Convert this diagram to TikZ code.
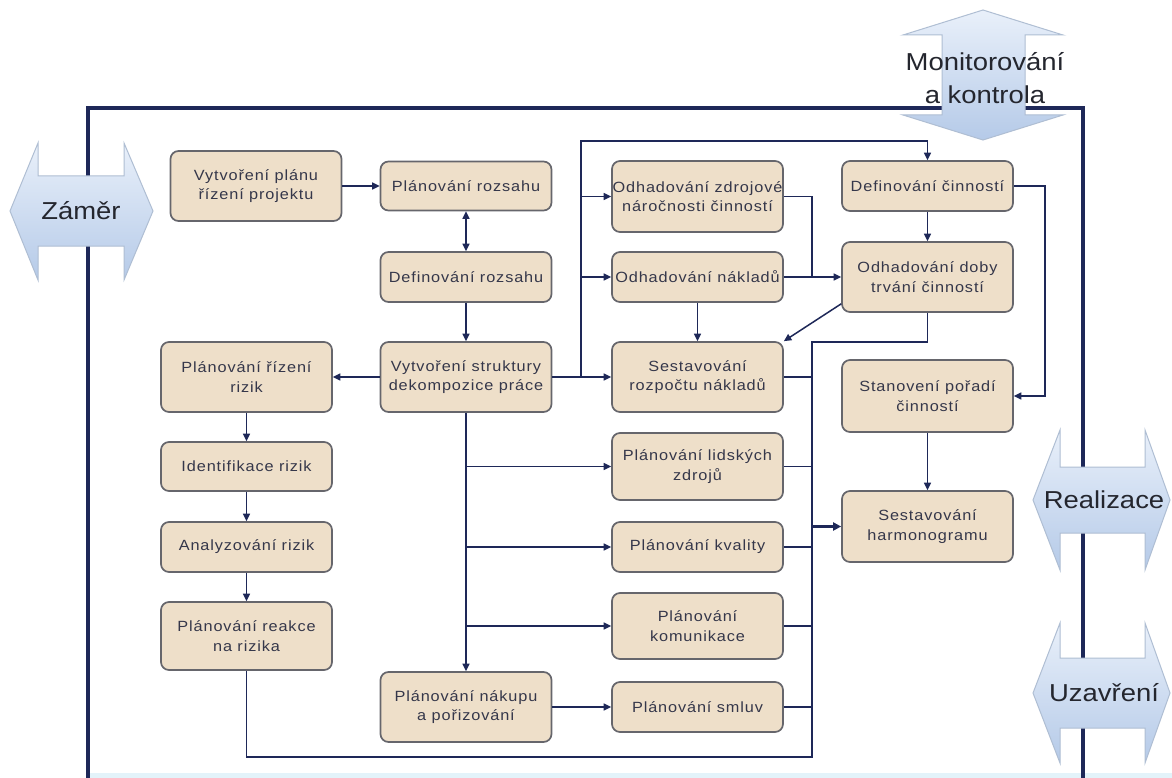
\documentclass[tikz,border=0pt]{standalone}
\usepackage{fontspec}
\setmainfont{Liberation Sans}
\newfontfamily\boxfont[FakeStretch=1.1,LetterSpace=6]{Liberation Sans}
\newfontfamily\phasefont[FakeStretch=1.12]{Liberation Sans}
\usetikzlibrary{arrows.meta,calc}

\definecolor{navy}{HTML}{1E2858}
\definecolor{boxfill}{HTML}{EEDFC9}
\definecolor{boxline}{HTML}{66666C}
\definecolor{boxtext}{HTML}{35374A}
\definecolor{phasetop}{HTML}{E9F0FA}
\definecolor{phasebot}{HTML}{B5CAE8}
\definecolor{phaseline}{HTML}{AFBED3}
\definecolor{phasetext}{HTML}{24262E}
\definecolor{stripcol}{HTML}{E3F3FA}

\tikzset{
  proc/.style={draw=boxline, line width=1.7pt, fill=boxfill, rounded corners=8pt,
    minimum width=171pt, inner sep=0pt, align=center, text=boxtext,
    font=\boxfont\fontsize{14.8}{19.5}\selectfont},
  link/.style={draw=navy, line width=1.5pt},
  thicklink/.style={draw=navy, line width=2.6pt},
  arr/.style={link, -{Triangle[length=7.5pt,width=7pt]}},
  biarr/.style={link, {Triangle[length=7.5pt,width=7pt]}-{Triangle[length=7.5pt,width=7pt]}},
  frameline/.style={draw=navy, line width=3.2pt},
  phase/.style={draw=phaseline, line width=1pt, top color=phasetop, bottom color=phasebot},
  phaselabel/.style={text=phasetext, align=center, inner sep=0pt,
    font=\phasefont\fontsize{24.5}{33}\selectfont}
}

\begin{document}
\begin{tikzpicture}[x=1pt, y=-1pt]
  \useasboundingbox (0,0) rectangle (1172,778);
  \fill[white] (0,0) rectangle (1172,778);
  \fill[stripcol] (88,773) rectangle (1172,778);

  % outer frame of the planning processes
  \draw[frameline] (88,778) -- (88,108) -- (1083,108) -- (1083,778);

  % process boxes
  \node[proc, minimum height=70pt] (plan)     at (256,186)     {Vytvoření plánu\\řízení projektu};
  \node[proc, minimum height=49pt] (rozsah)   at (466,186)     {Plánování rozsahu};
  \node[proc, minimum height=50pt] (defroz)   at (466,277)     {Definování rozsahu};
  \node[proc, minimum height=70pt] (wbs)      at (466,377)     {Vytvoření struktury\\dekompozice práce};
  \node[proc, minimum height=71pt] (zdroj)    at (697.5,196.5) {Odhadování zdrojové\\náročnosti činností};
  \node[proc, minimum height=50pt] (naklad)   at (697.5,277)   {Odhadování nákladů};
  \node[proc, minimum height=70pt] (rozpocet) at (697.5,377)   {Sestavování\\rozpočtu nákladů};
  \node[proc, minimum height=50pt] (defcin)   at (927.5,186)   {Definování činností};
  \node[proc, minimum height=70pt] (doba)     at (927.5,277)   {Odhadování doby\\trvání činností};
  \node[proc, minimum height=72pt] (poradi)   at (927.5,396)   {Stanovení pořadí\\činností};
  \node[proc, minimum height=71pt] (harm)     at (927.5,526.5) {Sestavování\\harmonogramu};
  \node[proc, minimum height=70pt] (rizeni)   at (246.5,377)   {Plánování řízení\\rizik};
  \node[proc, minimum height=49pt] (ident)    at (246.5,466.5) {Identifikace rizik};
  \node[proc, minimum height=50pt] (analyz)   at (246.5,547)   {Analyzování rizik};
  \node[proc, minimum height=68pt] (reakce)   at (246.5,636)   {Plánování reakce\\na rizika};
  \node[proc, minimum height=70pt] (nakup)    at (466,707)     {Plánování nákupu\\a pořizování};
  \node[proc, minimum height=67pt] (lidske)   at (697.5,466.5) {Plánování lidských\\zdrojů};
  \node[proc, minimum height=50pt] (kvalita)  at (697.5,547)   {Plánování kvality};
  \node[proc, minimum height=66pt] (komunik)  at (697.5,626)   {Plánování\\komunikace};
  \node[proc, minimum height=50pt] (smluv)    at (697.5,707)   {Plánování smluv};

  % junction points of the collecting lines
  \coordinate (bus1)    at (581,141);
  \coordinate (j1)      at (812,277);
  \coordinate (j2)      at (1045,186);
  \coordinate (bus2top) at (812,342);
  \coordinate (bus2bot) at (812,757);

  % scope and WBS chain
  \draw[arr] (plan.east) -- (plan.east -| rozsah.west);
  \draw[biarr] (rozsah) -- (defroz);
  \draw[arr] (defroz) -- (wbs);
  \draw[arr] (wbs) -- (rizeni);
  \draw[arr] (wbs) -- (nakup);
  \draw[arr] (wbs.south |- lidske.west) -- (lidske.west);
  \draw[arr] (wbs.south |- kvalita.west) -- (kvalita.west);
  \draw[arr] (wbs.south |- komunik.west) -- (komunik.west);
  \draw[arr] (nakup) -- (smluv);

  % risk chain
  \draw[arr] (rizeni) -- (ident);
  \draw[arr] (ident) -- (analyz);
  \draw[arr] (analyz) -- (reakce);

  % first distribution line
  \draw[thicklink] (wbs.east) -- (wbs.east -| bus1);
  \draw[arr] (wbs.east -| bus1) -- (rozpocet.west);
  \draw[arr] (wbs.east -| bus1) -- (bus1) -| (defcin.north);
  \draw[arr] (bus1 |- zdroj.west) -- (zdroj.west);
  \draw[arr] (bus1 |- naklad.west) -- (naklad.west);
  \draw[arr] (naklad) -- (rozpocet);

  % activities and durations
  \draw[link] (zdroj.east) -| (j1);
  \draw[arr] (naklad.east) -- (doba.west);
  \draw[arr] (defcin) -- (doba);
  \draw[arr] ([yshift=9pt]doba.south west) -- (rozpocet.north east);
  \draw[arr] (defcin.east) -- (j2) |- (poradi.east);
  \draw[arr] (poradi) -- (harm);

  % second collecting line into the schedule
  \draw[link] (doba.south) |- (bus2top) -- (bus2bot) -| (reakce.south);
  \draw[link] (rozpocet.east) -- (rozpocet.east -| bus2top);
  \draw[link] (lidske.east) -- (lidske.east -| bus2top);
  \draw[link] (kvalita.east) -- (kvalita.east -| bus2top);
  \draw[link] (komunik.east) -- (komunik.east -| bus2top);
  \draw[link] (smluv.east) -- (smluv.east -| bus2top);
  \draw[thicklink, -{Triangle[length=8pt,width=8pt]}] (bus2top |- harm.west) -- (harm.west);

  % project phase arrows
  \draw[phase] (10,211) -- (38,143) -- (38,176) -- (124,176) -- (124,143) -- (153,211)
    -- (124,280) -- (124,246) -- (38,246) -- (38,280) -- cycle;
  \node[phaselabel] (zamer) at (81,211) {Záměr};

  \draw[phase] (983,10) -- (1063,35) -- (1025,35) -- (1025,115) -- (1063,115) -- (983,140)
    -- (903,115) -- (942,115) -- (942,35) -- (903,35) -- cycle;
  \node[phaselabel] (monitor) at (985,78) {Monitorování\\a kontrola};

  \draw[phase] (1033,500) -- (1060,430) -- (1060,467) -- (1145,467) -- (1145,430) -- (1170,500)
    -- (1145,570) -- (1145,533) -- (1060,533) -- (1060,570) -- cycle;
  \node[phaselabel] (realizace) at (1104,500) {Realizace};

  \draw[phase] (1033,693) -- (1060,623) -- (1060,658) -- (1145,658) -- (1145,623) -- (1170,693)
    -- (1145,763) -- (1145,728) -- (1060,728) -- (1060,763) -- cycle;
  \node[phaselabel] (uzavreni) at (1104,693) {Uzavření};
\end{tikzpicture}
\end{document}
